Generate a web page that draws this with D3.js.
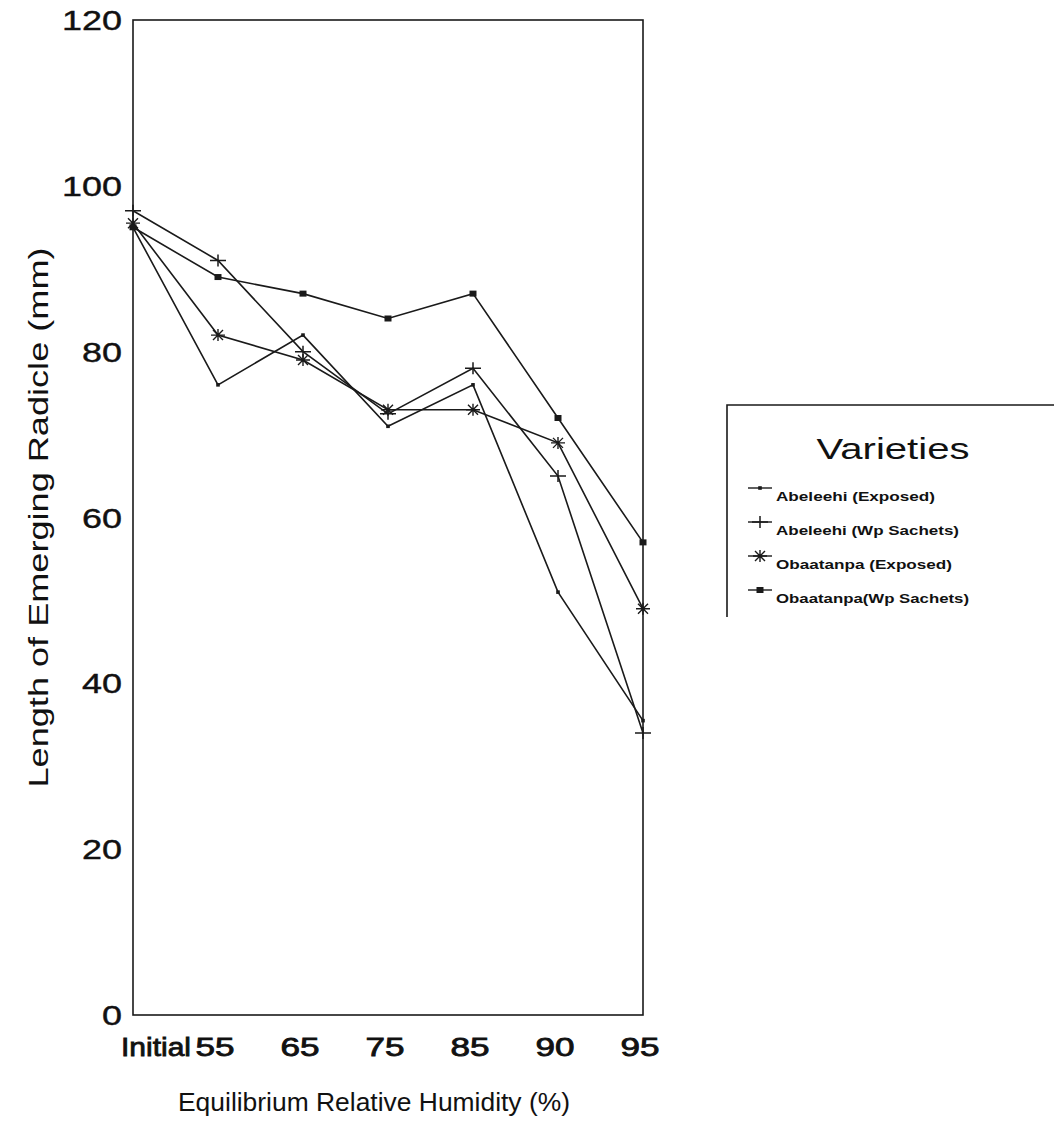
<!DOCTYPE html>
<html>
<head>
<meta charset="utf-8">
<script src="https://cdnjs.cloudflare.com/ajax/libs/d3/7.8.5/d3.min.js"></script>
<style>
    body { margin: 0; background: #ffffff; }
    svg { display: block; }
</style>
</head>
<body>
<div id="contenedorGrafico"></div>
<script>
// Datos
const categorias = ["Initial", "55", "65", "75", "85", "90", "95"];
const abeleehiExpuesto = [95, 76, 82, 71, 76, 51, 35.5];
const abeleehiSobres = [97, 91, 80, 72.5, 78, 65, 34];
const obaatanpaExpuesto = [95.5, 82, 79, 73, 73, 69, 49];
const obaatanpaSobres = [95, 89, 87, 84, 87, 72, 57];
const nombresSeries = ["Abeleehi (Exposed)", "Abeleehi (Wp Sachets)", "Obaatanpa (Exposed)", "Obaatanpa(Wp Sachets)"];
const ticksY = [0, 20, 40, 60, 80, 100, 120];

const ancho = 1054, alto = 1135;
const izquierda = 133, derecha = 643, arriba = 20, abajo = 1015;
const negro = "#1a1a1a";
const fuente = "Arial, 'Liberation Sans', Helvetica, sans-serif";

const $svg = d3.select("#contenedorGrafico")
    .append("svg")
    .attr("width", ancho)
    .attr("height", alto);

const x = d3.scalePoint()
    .domain(categorias)
    .range([izquierda, derecha]);

const y = d3.scaleLinear()
    .domain([0, 120])
    .range([abajo, arriba]);

// Marco del grafico
$svg.append("rect")
    .attr("x", izquierda)
    .attr("y", arriba)
    .attr("width", derecha - izquierda)
    .attr("height", abajo - arriba)
    .attr("fill", "none")
    .attr("stroke", negro)
    .attr("stroke-width", 1.6);

// Etiquetas del eje Y
$svg.append("g")
    .selectAll("text")
    .data(ticksY)
    .join("text")
    .attr("x", izquierda - 11)
    .attr("y", d => y(d) + 10)
    .attr("text-anchor", "end")
    .attr("font-family", fuente)
    .attr("font-size", 27)
    .attr("fill", "#111")
    .attr("stroke", "#111")
    .attr("stroke-width", 0.4)
    .attr("textLength", d => String(d).length * 20)
    .attr("lengthAdjust", "spacingAndGlyphs")
    .text(d => d);

// Etiquetas del eje X
$svg.append("g")
    .selectAll("text")
    .data(categorias)
    .join("text")
    .attr("x", (d, i) => i === 0 ? x(d) + 23 : x(d) - 3)
    .attr("y", abajo + 41)
    .attr("text-anchor", "middle")
    .attr("font-family", fuente)
    .attr("font-size", 25)
    .attr("fill", "#111")
    .attr("stroke", "#111")
    .attr("stroke-width", 0.8)
    .attr("textLength", d => d.length === 2 ? 39 : 70)
    .attr("lengthAdjust", "spacingAndGlyphs")
    .text(d => d);

// Titulos de los ejes
$svg.append("text")
    .attr("transform", `translate(48,${(arriba + abajo) / 2}) rotate(-90)`)
    .attr("text-anchor", "middle")
    .attr("font-family", fuente)
    .attr("font-size", 27)
    .attr("fill", "#111")
    .attr("textLength", 540)
    .attr("lengthAdjust", "spacingAndGlyphs")
    .text("Length of Emerging Radicle (mm)");

$svg.append("text")
    .attr("x", (izquierda + derecha) / 2 - 14)
    .attr("y", 1111)
    .attr("text-anchor", "middle")
    .attr("font-family", "'Liberation Sans Narrow', 'Arial Narrow', " + fuente)
    .attr("font-size", 25)
    .attr("fill", "#111")
    .attr("textLength", 392)
    .attr("lengthAdjust", "spacingAndGlyphs")
    .text("Equilibrium Relative Humidity (%)");

// Marcadores
const dibujarMarcador = (g, tipo) => {
    if (tipo === "punto") {
        g.append("rect").attr("x", -1.8).attr("y", -1.8).attr("width", 3.6).attr("height", 3.6).attr("fill", negro);
    } else if (tipo === "cruz") {
        g.append("path").attr("d", "M-8,0H8M0,-6V6").attr("stroke", negro).attr("stroke-width", 1.5).attr("fill", "none");
    } else if (tipo === "estrella") {
        g.append("path").attr("d", "M-7,0H7M0,-6V6M-5,-5L5,5M-5,5L5,-5").attr("stroke", negro).attr("stroke-width", 1.4).attr("fill", "none");
    } else {
        g.append("rect").attr("x", -3.5).attr("y", -3).attr("width", 7).attr("height", 6).attr("fill", negro);
    }
};

const series = [abeleehiExpuesto, abeleehiSobres, obaatanpaExpuesto, obaatanpaSobres];
const tiposMarcador = ["punto", "cruz", "estrella", "cuadrado"];

const linea = d3.line()
    .x((d, i) => x(categorias[i]))
    .y(d => y(d));

series.forEach((valores, s) => {
    $svg.append("path")
        .datum(valores)
        .attr("d", linea)
        .attr("fill", "none")
        .attr("stroke", negro)
        .attr("stroke-width", 1.6);
    valores.forEach((v, i) => {
        const g = $svg.append("g")
            .attr("transform", `translate(${x(categorias[i])},${y(v)})`);
        dibujarMarcador(g, tiposMarcador[s]);
    });
});

// Leyenda
$svg.append("path")
    .attr("d", "M727,617V405H1060")
    .attr("fill", "none")
    .attr("stroke", negro)
    .attr("stroke-width", 1.6);

$svg.append("text")
    .attr("x", 893)
    .attr("y", 459)
    .attr("text-anchor", "middle")
    .attr("font-family", fuente)
    .attr("font-size", 29)
    .attr("fill", "#111")
    .attr("textLength", 153)
    .attr("lengthAdjust", "spacingAndGlyphs")
    .text("Varieties");

const anchosLeyenda = [159, 183, 176, 193];
nombresSeries.forEach((nombre, s) => {
    const yLinea = 488 + s * 34;
    $svg.append("path")
        .attr("d", `M748,${yLinea}H772`)
        .attr("stroke", negro)
        .attr("stroke-width", 1.4);
    const g = $svg.append("g")
        .attr("transform", `translate(760,${yLinea})`);
    dibujarMarcador(g, tiposMarcador[s]);
    $svg.append("text")
        .attr("x", 776)
        .attr("y", yLinea + 13)
        .attr("font-family", fuente)
        .attr("font-size", 13)
        .attr("font-weight", "bold")
        .attr("fill", "#111")
        .attr("textLength", anchosLeyenda[s])
        .attr("lengthAdjust", "spacingAndGlyphs")
        .text(nombre);
});
</script>
</body>
</html>
